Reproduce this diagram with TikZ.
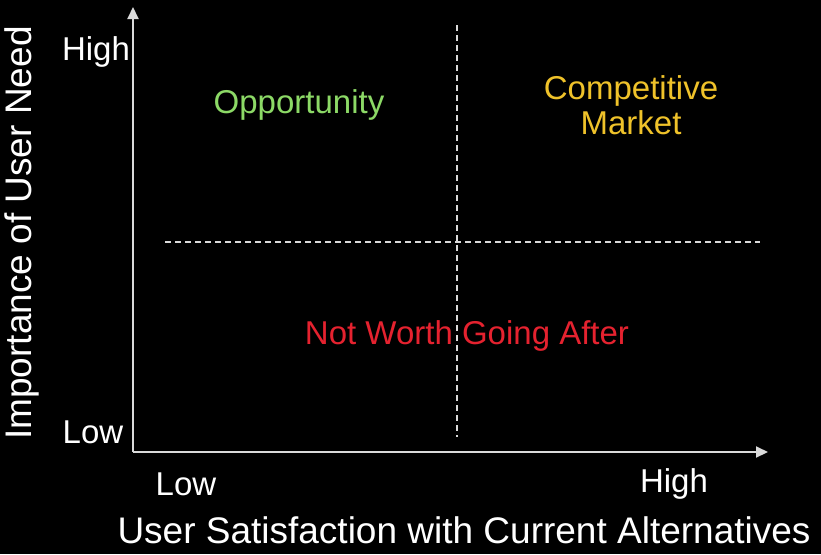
\documentclass[tikz,border=0pt]{standalone}
\usepackage{fontspec}
\setmainfont{Liberation Sans}
\usetikzlibrary{arrows.meta}
\definecolor{axisgray}{HTML}{DADADA}
\definecolor{oppgreen}{HTML}{8CD966}
\definecolor{compyellow}{HTML}{EFC22A}
\definecolor{notred}{HTML}{E5222F}
\begin{document}
\begin{tikzpicture}[>={Triangle[width=11pt,length=12pt]},x=1pt,y=-1pt,
    every node/.style={font=\fontsize{33}{35}\selectfont,text=white,inner sep=0pt},
    axis/.style={axisgray,line width=2pt},
    guide/.style={axisgray,line width=1.4pt,dash pattern=on 6pt off 4pt},
    title/.style={font=\fontsize{37}{40}\selectfont}]
    \useasboundingbox (0,0) rectangle (821,554);
    \fill[black] (0,0) rectangle (821,554);
    % axes
    \coordinate (O) at (133,452);
    \coordinate (ytop) at (133,7);
    \coordinate (xend) at (768,452);
    \draw[axis,->] (O)--(ytop);
    \draw[axis,->] (O)--(xend);
    % quadrant guides
    \coordinate (vtop) at (457,25); \coordinate (vbot) at (457,437);
    \coordinate (hleft) at (165,242); \coordinate (hright) at (760,242);
    \draw[guide] (vtop)--(vbot);
    \draw[guide] (hleft)--(hright);
    % tick labels
    \node (yhigh) at (96,52){High};
    \node (ylow) at (93,432){Low};
    \node (xlow) at (186,484){Low};
    \node (xhigh) at (674,484){High};
    % axis titles
    \node[title] (xtitle) at (464,530){User Satisfaction with Current Alternatives};
    \node[title,rotate=90] (ytitle) at (22,233){Importance of User Need};
    % quadrants
    \node[text=oppgreen] (opp) at (299,105){Opportunity};
    \node[text=compyellow,align=center] (comp) at (631,105){Competitive\\Market};
    \node[text=notred] (notworth) at (467,336){Not Worth Going After};
  \end{tikzpicture}
\end{document}
